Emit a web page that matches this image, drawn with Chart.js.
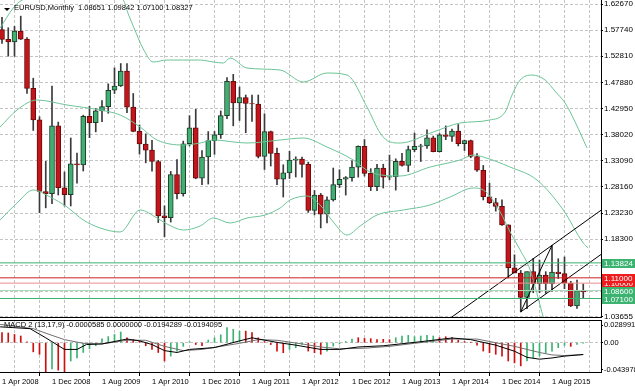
<!DOCTYPE html>
<html><head><meta charset="utf-8">
<script src="https://cdn.jsdelivr.net/npm/chart.js@4.4.1/dist/chart.umd.min.js"></script>
<style>
html,body{margin:0;padding:0;background:#fff;}
#wrap{position:relative;width:635px;height:391px;overflow:hidden;background:#fff;}
canvas{position:absolute;left:0;}
#main{top:0;}
#macd{top:318px;}
</style></head><body>
<div id="wrap"><canvas id="main" width="635" height="322"></canvas><canvas id="macd" width="635" height="73"></canvas></div>
<script>
// ---------------- DATA ----------------
const symbolTitle = 'EURUSD,Monthly';
const lastBar = [1.08651, 1.09842, 1.07100, 1.08327];
const macdTitle = 'MACD 2 (13,17,9) -0.0000585 0.0000000 -0.0194289 -0.0194095';

// monthly candles, Apr 2008 .. Jan 2016 (index 0..93)
const opens = [1.5785,1.5600,1.5550,1.5755,1.5605,1.4675,1.4080,1.2730,1.2690,1.3970,
1.2800,1.2670,1.3250,1.3230,1.4150,1.4030,1.4250,1.4330,1.4640,1.4720,
1.5000,1.4320,1.3865,1.3625,1.3510,1.3295,1.2270,1.2235,1.3050,1.2690,
1.3630,1.3930,1.2980,1.3380,1.3690,1.3800,1.4160,1.4810,1.4400,1.4500,
1.4390,1.4380,1.3390,1.3860,1.3450,1.2960,1.3080,1.3320,1.3340,1.3240,
1.2370,1.2660,1.2300,1.2570,1.2860,1.2960,1.2990,1.3190,1.3580,1.3070,
1.2820,1.3170,1.3000,1.3010,1.3300,1.3220,1.3520,1.3580,1.3590,1.3740,
1.3480,1.3800,1.3770,1.3870,1.3630,1.3690,1.3390,1.3130,1.2630,1.2520,
1.2450,1.2100,1.1290,1.1190,1.0730,1.1220,1.0990,1.1150,1.0990,1.1210,
1.1180,1.1000,1.0570,1.08651];
const highs = [1.6018,1.5819,1.5845,1.6038,1.5633,1.4867,1.4140,1.3298,1.4719,1.4040,
1.3098,1.3739,1.3453,1.4170,1.4337,1.4296,1.4446,1.4761,1.5062,1.5144,
1.5141,1.4579,1.3985,1.3818,1.3693,1.3317,1.2458,1.3108,1.3333,1.3680,
1.4160,1.4281,1.3500,1.3860,1.3862,1.4250,1.4880,1.4940,1.4700,1.4550,
1.4550,1.4550,1.4195,1.3870,1.3550,1.3234,1.3487,1.3384,1.3380,1.3284,
1.2748,1.2692,1.2630,1.3172,1.3140,1.3011,1.3308,1.3590,1.3710,1.3160,
1.3243,1.3244,1.3416,1.3346,1.3451,1.3586,1.3832,1.3621,1.3893,1.3775,
1.3824,1.3967,1.3906,1.3993,1.3700,1.3700,1.3445,1.3221,1.2887,1.2601,
1.2570,1.2100,1.1534,1.1240,1.1215,1.1466,1.1436,1.1216,1.1714,1.1460,
1.1495,1.1035,1.1059,1.09842];
const lows = [1.5523,1.5283,1.5282,1.5597,1.4578,1.3881,1.2329,1.2421,1.2500,1.2663,
1.2456,1.2456,1.2885,1.3116,1.3745,1.3854,1.4045,1.4206,1.4578,1.4710,
1.4218,1.3856,1.3435,1.3270,1.3113,1.2143,1.1876,1.2152,1.2589,1.2642,
1.3590,1.2969,1.2859,1.2870,1.3430,1.3732,1.4104,1.3968,1.4070,1.3838,
1.4050,1.3363,1.3145,1.3210,1.2860,1.2625,1.2975,1.3003,1.3000,1.2334,
1.2289,1.2042,1.2134,1.2548,1.2803,1.2662,1.2925,1.3000,1.3020,1.2746,
1.2745,1.2794,1.2950,1.2755,1.3208,1.3105,1.3481,1.3295,1.3543,1.3477,
1.3475,1.3707,1.3673,1.3589,1.3503,1.3366,1.3110,1.2570,1.2500,1.2358,
1.2090,1.1098,1.1260,1.0458,1.0519,1.0819,1.0819,1.0808,1.0848,1.1087,
1.0896,1.0557,1.0524,1.07100];
const closes = [1.5600,1.5550,1.5755,1.5605,1.4675,1.4080,1.2730,1.2690,1.3970,1.2800,
1.2670,1.3250,1.3230,1.4150,1.4030,1.4250,1.4330,1.4640,1.4720,1.5000,
1.4320,1.3865,1.3625,1.3510,1.3295,1.2270,1.2235,1.3050,1.2690,1.3630,
1.3930,1.2980,1.3380,1.3690,1.3800,1.4160,1.4810,1.4400,1.4500,1.4390,
1.4380,1.3390,1.3860,1.3450,1.2960,1.3080,1.3320,1.3340,1.3240,1.2370,
1.2660,1.2300,1.2570,1.2860,1.2960,1.2990,1.3190,1.3580,1.3070,1.2820,
1.3170,1.3000,1.3010,1.3300,1.3220,1.3520,1.3580,1.3590,1.3740,1.3480,
1.3800,1.3770,1.3870,1.3630,1.3690,1.3390,1.3130,1.2630,1.2520,1.2450,
1.2100,1.1290,1.1190,1.0730,1.1220,1.0990,1.1150,1.0990,1.1210,1.1180,
1.1000,1.0570,1.0860,1.08327];

// price axis tick labels
const priceTicks = [1.62670,1.57740,1.52810,1.47880,1.42950,1.38020,1.33090,1.28160,1.23230,1.18300,1.13370,1.08440,1.03655];
// date axis: labelled month indices and their labels, grid every 4 months
const dateTickIdx = [0,8,16,24,32,40,48,56,64,72,80,88];
const dateTickLabels = ['1 Apr 2008','1 Dec 2008','1 Aug 2009','1 Apr 2010','1 Dec 2010','1 Aug 2011','1 Apr 2012','1 Dec 2012','1 Aug 2013','1 Apr 2014','1 Dec 2014','1 Aug 2015'];
const dateGridIdx = [0,4,8,12,16,20,24,28,32,36,40,44,48,52,56,60,64,68,72,76,80,84,88,92];

// Bollinger bands: [month index, price]
const bbUpper = [[-0.3,1.5814],[1.8,1.6191],[3.2,1.6342],[6,1.6399],[10.4,1.6399],[14,1.6493],[17.3,1.6456],[19.4,1.6342],[20.2,1.6080],[21,1.5850],[22.6,1.5420],[24.2,1.5173],[26.4,1.5210],[29,1.5210],[31.7,1.5210],[33.8,1.5173],[35.4,1.5154],[36.5,1.5248],[39.2,1.5059],[44.5,1.5022],[48.2,1.4795],[52,1.4965],[55.2,1.4927],[58.4,1.4324],[60.5,1.3833],[62.1,1.3663],[63.7,1.3644],[69,1.3852],[73.3,1.4022],[78,1.4078],[80.5,1.4229],[81.6,1.4550],[82.9,1.4833],[84.8,1.4927],[86.9,1.4833],[88.6,1.4607],[90.1,1.4399],[91.7,1.4041],[93.6,1.3550]];
const bbMiddle = [[-0.3,1.3946],[2.4,1.4267],[5.6,1.4456],[10.4,1.4361],[15.7,1.4267],[18.9,1.4173],[22.1,1.3946],[24.8,1.3701],[29,1.3607],[31.7,1.3644],[33.8,1.3701],[39.2,1.3644],[44.5,1.3701],[48.2,1.3739],[52,1.3569],[56.2,1.3324],[58.9,1.3097],[63.7,1.3022],[68.5,1.3191],[73.3,1.3324],[75.4,1.3418],[77,1.3380],[81.3,1.3191],[85.6,1.2946],[89.8,1.2380],[93,1.1758],[93.8,1.1663]];
const bbLower = [[-0.3,1.2192],[2.4,1.2512],[5,1.2758],[7.7,1.2626],[10.4,1.2437],[13,1.2192],[15.7,1.2041],[18.9,1.1965],[22.1,1.2380],[24.8,1.2229],[26.4,1.2116],[29,1.2003],[31.7,1.2078],[33.8,1.2229],[36.5,1.2135],[39.2,1.2229],[42.1,1.2286],[44.5,1.2418],[46.1,1.2569],[48.8,1.2644],[50.9,1.2475],[53,1.2154],[55.2,1.1908],[57.3,1.2078],[60,1.2286],[64.2,1.2380],[68.5,1.2475],[71.7,1.2626],[75.4,1.2795],[77,1.2758],[79.7,1.2343],[81.3,1.1965],[82.9,1.1626],[84.5,1.1248],[86.6,1.0361],[87.7,0.9927]];

// horizontal price levels (drawing order)
const levels = [1.13824, 1.10000, 1.11000, 1.08600, 1.07100];
// trend channel: [month index, price]
const channelUpper = [[71.9,1.0355],[95.9,1.2380]];
const channelLower = [[83,1.0458],[95.9,1.1546]];
const channelLink = [[83,1.0458],[88,1.1714]];

// MACD histogram values and buffer (1 = rising buffer, 0 = falling buffer)
const macdHist = [0.0165,0.0160,0.0135,0.0110,0.0015,-0.0150,-0.0190,-0.0480,-0.0430,-0.0450,
-0.0475,-0.0300,-0.0250,-0.0160,-0.0100,-0.0050,0.0065,0.0100,0.0135,0.0175,
0.0080,0.0050,0.0030,-0.0050,-0.0110,-0.0160,-0.0300,-0.0220,-0.0140,-0.0060,
0.0015,-0.0030,-0.0050,0.0044,0.0080,0.0130,0.0246,0.0219,0.0190,0.0190,
0.0165,0.0080,0.0020,-0.0030,-0.0137,-0.0164,-0.0110,-0.0082,-0.0030,-0.0137,
-0.0164,-0.0190,-0.0137,-0.0055,-0.0020,0.0020,0.0060,0.0082,0.0070,0.0066,
0.0050,0.0055,0.0050,0.0082,0.0110,0.0120,0.0098,0.0110,0.0120,0.0110,
0.0082,0.0098,0.0082,0.0040,0.0020,0.0005,-0.0040,-0.0137,-0.0164,-0.0190,
-0.0220,-0.0300,-0.0330,-0.0380,-0.0300,-0.0246,-0.0220,-0.0164,-0.0137,-0.0082,
-0.0044,-0.0060,-0.0030,-0.00006];
const macdHistBuffer = [0,0,0,0,0,0,0,0,1,0,
0,1,1,1,1,1,1,1,1,1,
0,0,0,0,0,0,0,1,1,1,
1,0,0,1,1,1,1,1,1,0,
0,0,0,0,0,0,1,1,1,0,
0,0,1,1,1,1,1,0,0,0,
0,0,0,1,1,1,1,1,1,1,
0,0,0,0,0,0,0,0,0,0,
0,0,0,0,1,1,1,1,1,1,
1,0,1,1];
const macdMain = [[-0.3,0.0260],[4.5,0.0230],[7,0.0080],[10,-0.0110],[12,-0.0110],[13.5,-0.0030],[16,-0.0020],[20,0.0060],[22,0.0030],[24,-0.0030],[26,-0.0130],[28,-0.0160],[30,-0.0110],[34,-0.0080],[38,0.0030],[40,0.0080],[44,0.0005],[47,-0.0040],[51,-0.0110],[54,-0.0110],[57,-0.0070],[61,-0.0050],[66,0.0005],[72,0.0077],[75,0.0050],[79,-0.0040],[82,-0.0140],[84,-0.0240],[86,-0.0270],[88,-0.0250],[90,-0.0220],[93,-0.0194]];
const macdSignal = [[-0.3,0.0300],[5,0.0230],[8,0.0120],[10,0.0050],[13,-0.0010],[16,-0.0020],[20,0.0040],[23,0.0040],[26,-0.0060],[29,-0.0130],[32,-0.0110],[35,-0.0060],[38,-0.0010],[41,0.0050],[44,0.0040],[48,-0.0020],[51,-0.0070],[54,-0.0100],[58,-0.0090],[62,-0.0060],[66,-0.0010],[72,0.0060],[76,0.0060],[79,0.0000],[82,-0.0060],[84,-0.0110],[86,-0.0160],[88,-0.0200],[90,-0.0210],[93,-0.0194]];
const macdTicks = [0.028991, 0, -0.043978];
const macdTickLabels = ['0.028991', '0.00', '-0.043978'];

// ---------------- STYLE / LAYOUT ----------------
const FONT = '"Liberation Sans", Arial, sans-serif';
Chart.defaults.font.family = FONT;
Chart.defaults.color = '#000';
const X_MIN = -0.32, X_MAX = 95.84;
const GRID = '#c4c4c4';
const DASH = [3, 2];
const BULL = '#3fb071', BULL_EDGE = '#1f3a2a';
const BEAR = '#c2161c', BEAR_EDGE = '#6a0a0a';
const BAND = '#6cc497';
const levelLineColors = ['#3cb371', '#ee8c8c', '#cc2020', '#a6dab8', '#3cb371'];
const levelBoxColors = ['#3cb371', '#ee1c1c', '#ee1c1c', '#3cb371', '#3cb371'];

const pts = arr => arr.map(p => ({x: p[0], y: p[1]}));
const idxs = opens.map((_, i) => i);
const isBull = i => closes[i] >= opens[i];

const lineDs = (data, color, order, extra) => Object.assign({
  type: 'line', data: pts(data), borderColor: color, borderWidth: 1,
  pointRadius: 0, fill: false, tension: 0, order
}, extra || {});

const mainDatasets = [
  ...levels.map((L, k) => lineDs([[X_MIN, L], [X_MAX, L]], levelLineColors[k], 0)),
  lineDs(channelUpper, '#000', 0),
  lineDs(channelLower, '#000', 0),
  lineDs(channelLink, '#000', 0),
  lineDs(bbUpper, BAND, 1, {cubicInterpolationMode: 'monotone'}),
  lineDs(bbMiddle, BAND, 1, {cubicInterpolationMode: 'monotone'}),
  lineDs(bbLower, BAND, 1, {cubicInterpolationMode: 'monotone'}),
  {
    type: 'bar', order: 2, grouped: false, barThickness: 5,
    data: idxs.map(i => ({x: i, y: [Math.min(opens[i], closes[i]), Math.max(opens[i], closes[i])]})),
    backgroundColor: c => isBull(c.dataIndex) ? BULL : BEAR,
    borderColor: c => isBull(c.dataIndex) ? BULL_EDGE : BEAR_EDGE,
    borderWidth: 1, borderSkipped: false
  },
  {
    type: 'bar', order: 3, grouped: false, barThickness: 1,
    data: idxs.map(i => ({x: i, y: [lows[i], highs[i]]})),
    backgroundColor: '#3a3a3a', borderWidth: 0
  }
];

const mainOverlay = {
  id: 'mainOverlay',
  afterDraw(chart) {
    const {ctx} = chart;
    const y = chart.scales.y;
    ctx.save();
    ctx.textBaseline = 'middle';
    ctx.textAlign = 'left';
    levels.forEach((L, k) => {
      const py = Math.round(y.getPixelForValue(L));
      ctx.fillStyle = levelBoxColors[k];
      ctx.fillRect(602, py - 4, 33, 9);
      ctx.fillStyle = '#fff';
      ctx.font = '8px ' + FONT;
      ctx.fillText(L.toFixed(5), 604, py + 0.5);
    });
    ctx.fillStyle = '#000';
    ctx.beginPath(); ctx.moveTo(4, 8); ctx.lineTo(10, 8); ctx.lineTo(7, 11); ctx.closePath(); ctx.fill();
    ctx.font = '7.5px ' + FONT;
    ctx.fillText(symbolTitle, 14, 8);
    ctx.fillText(lastBar.map(v => v.toFixed(5)).join(' '), 78, 8);
    ctx.restore();
  }
};

new Chart(document.getElementById('main'), {
  type: 'line',
  data: {datasets: mainDatasets},
  options: {
    responsive: false, animation: false, events: [],
    layout: {padding: {top: 0, bottom: 5, left: 0, right: 0}},
    plugins: {legend: {display: false}, tooltip: {enabled: false}},
    scales: {
      x: {
        type: 'linear', min: X_MIN, max: X_MAX, offset: false, position: 'bottom',
        afterBuildTicks: s => { s.ticks = dateGridIdx.map(v => ({value: v})); },
        afterFit: s => { s.height = 0; s.paddingLeft = 0; s.paddingRight = 0; },
        ticks: {display: false},
        grid: {color: GRID, drawTicks: false},
        border: {display: true, color: '#000', dash: DASH}
      },
      y: {
        type: 'linear', position: 'right', min: 1.0361, max: 1.6343,
        afterBuildTicks: s => { s.ticks = priceTicks.map(v => ({value: v})); },
        afterFit: s => { s.width = 34; s.paddingTop = 0; s.paddingBottom = 0; },
        ticks: {autoSkip: false, padding: 1, font: {size: 8, family: FONT}, color: '#000',
                callback: v => Number(v).toFixed(5)},
        grid: {color: GRID, drawTicks: true, tickLength: 2, tickColor: '#000'},
        border: {display: true, color: '#000', dash: DASH}
      }
    }
  },
  plugins: [mainOverlay]
});

// ---------------- MACD ----------------
const macdOverlay = {
  id: 'macdOverlay',
  afterDraw(chart) {
    const {ctx, chartArea} = chart;
    ctx.save();
    ctx.strokeStyle = '#000'; ctx.lineWidth = 1;
    ctx.beginPath(); ctx.moveTo(chartArea.left, chartArea.top + 0.5); ctx.lineTo(chartArea.right, chartArea.top + 0.5); ctx.stroke();
    ctx.fillStyle = '#000';
    ctx.font = '7.5px ' + FONT;
    ctx.textBaseline = 'middle'; ctx.textAlign = 'left';
    ctx.fillText(macdTitle, 4, 7);
    ctx.restore();
  }
};

new Chart(document.getElementById('macd'), {
  type: 'line',
  data: {datasets: [
    lineDs(macdMain, '#000', 0),
    lineDs(macdSignal, '#707070', 1),
    {
      type: 'bar', order: 2, grouped: false, barThickness: 1,
      data: idxs.map(i => ({x: i, y: macdHist[i]})),
      backgroundColor: c => macdHistBuffer[c.dataIndex] ? '#3cb371' : '#cc1010',
      borderWidth: 0
    }
  ]},
  options: {
    responsive: false, animation: false, events: [],
    layout: {padding: {top: 2, bottom: 0, left: 0, right: 0}},
    plugins: {legend: {display: false}, tooltip: {enabled: false}},
    scales: {
      x: {
        type: 'linear', min: X_MIN, max: X_MAX, offset: false, position: 'bottom',
        afterBuildTicks: s => { s.ticks = dateGridIdx.map(v => ({value: v})); },
        afterFit: s => { s.height = 19; s.paddingLeft = 0; s.paddingRight = 0; },
        ticks: {autoSkip: false, maxRotation: 0, align: 'start', padding: 1,
                font: {size: 7.5, family: FONT}, color: '#000',
                callback: v => { const k = dateTickIdx.indexOf(v); return k >= 0 ? dateTickLabels[k] : ''; }},
        grid: {color: GRID, drawTicks: true, tickLength: 4,
               tickColor: c => (c.tick && dateTickIdx.indexOf(c.tick.value) >= 0) ? '#000' : 'rgba(0,0,0,0)'},
        border: {display: true, color: '#000', dash: DASH}
      },
      y: {
        type: 'linear', position: 'right', min: -0.048, max: 0.0372,
        afterBuildTicks: s => { s.ticks = macdTicks.map(v => ({value: v})); },
        afterFit: s => { s.width = 34; s.paddingTop = 0; s.paddingBottom = 0; },
        ticks: {autoSkip: false, padding: 1, font: {size: 7.5, family: FONT}, color: '#000',
                callback: v => { const k = macdTicks.indexOf(v); return k >= 0 ? macdTickLabels[k] : ''; }},
        grid: {color: c => (c.tick && c.tick.value === 0) ? GRID : 'rgba(0,0,0,0)',
               drawTicks: true, tickLength: 2, tickColor: '#000'},
        border: {display: true, color: '#000', dash: DASH}
      }
    }
  },
  plugins: [macdOverlay]
});
</script>
</body></html>
